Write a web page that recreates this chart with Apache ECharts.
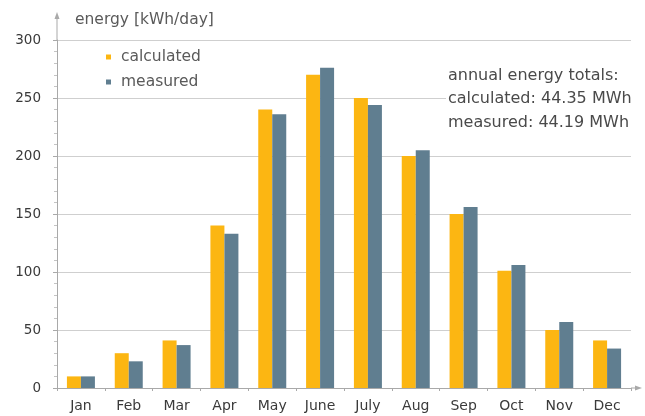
<!DOCTYPE html>
<html>
<head>
<meta charset="utf-8">
<script src="https://cdn.jsdelivr.net/npm/echarts@6/dist/echarts.min.js"></script>
<style>
  html, body { margin: 0; padding: 0; background: #fff; }
  #chart { width: 645px; height: 416px; }
</style>
</head>
<body>
<div id="chart"></div>
<script>
var months = ['Jan', 'Feb', 'Mar', 'Apr', 'May', 'June', 'July', 'Aug', 'Sep', 'Oct', 'Nov', 'Dec'];
var calculated = [10, 30, 41, 140, 240, 270, 250, 200, 150, 101, 50, 41];
var measured = [10, 23, 37, 133, 236, 276, 244, 205, 156, 106, 57, 34];
var yTicks = [0, 50, 100, 150, 200, 250, 300];
var totalsText = ['annual energy totals:', 'calculated: 44.35 MWh', 'measured: 44.19 MWh'];

var font = 'DejaVu Sans, Verdana, sans-serif';
var axisGray = '#a9a9a9';

var chart = echarts.init(document.getElementById('chart'), null, {renderer: 'canvas'});
var option = {
    animation: false,
    textStyle: {fontFamily: font},
    grid: {left: 57, right: 14, top: 40, bottom: 28},
    legend: {
        orient: 'vertical',
        left: 101,
        top: 44,
        itemWidth: 5,
        itemHeight: 5,
        itemGap: 9,
        icon: 'rect',
        textStyle: {fontSize: 15.5, lineHeight: 16, color: '#5a5a5a', fontFamily: font, padding: [0, 0, 0, 5]},
        data: ['calculated', 'measured']
    },
    xAxis: {
        type: 'category',
        data: months,
        axisLine: {lineStyle: {color: axisGray, width: 1}},
        axisTick: {show: true, alignWithLabel: false, length: 3, lineStyle: {color: axisGray}},
        axisLabel: {fontSize: 14, color: '#3a3a3a', margin: 11, interval: 0}
    },
    yAxis: {
        type: 'value',
        min: yTicks[0],
        max: yTicks[yTicks.length - 1],
        interval: 50,
        axisLine: {show: true, lineStyle: {color: axisGray, width: 1}},
        axisTick: {show: true, length: 4, lineStyle: {color: axisGray}},
        minorTick: {show: true, splitNumber: 5, length: 3, lineStyle: {color: '#c4c4c4'}},
        axisLabel: {fontSize: 13.5, color: '#3a3a3a', margin: 16},
        splitLine: {lineStyle: {color: '#cfcfcf', width: 1}}
    },
    series: [
        {
            name: 'calculated',
            type: 'bar',
            data: calculated,
            barWidth: 14,
            barGap: '0%',
            itemStyle: {color: '#fcb612'}
        },
        {
            name: 'measured',
            type: 'bar',
            data: measured,
            barWidth: 14,
            itemStyle: {color: '#607e90'}
        }
    ],
    graphic: [
        // axis extensions with arrow heads
        {type: 'line', shape: {x1: 57, y1: 40, x2: 57, y2: 17}, style: {stroke: axisGray, lineWidth: 1}},
        {type: 'polygon', shape: {points: [[57, 12], [54.5, 19], [59.5, 19]]}, style: {fill: axisGray}},
        {type: 'line', shape: {x1: 631, y1: 388, x2: 637, y2: 388}, style: {stroke: axisGray, lineWidth: 1}},
        {type: 'polygon', shape: {points: [[642, 388], [635, 385.5], [635, 390.5]]}, style: {fill: axisGray}},
        {type: 'text', left: 75, top: 12, style: {text: 'energy [kWh/day]', fill: '#5a5a5a', font: '15.5px ' + font}},
        {type: 'text', left: 446, top: 64, z: 10, style: {
            text: totalsText.join('\n'), fill: '#4a4a4a', font: '16px ' + font, lineHeight: 23.5,
            backgroundColor: '#fff', padding: [0, 2, 0, 2]
        }}
    ]
};
chart.setOption(option);
</script>
</body>
</html>
